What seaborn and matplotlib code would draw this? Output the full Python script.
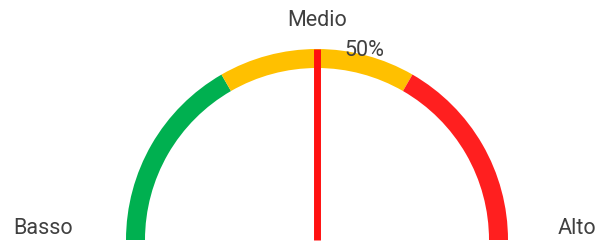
import numpy as np
import seaborn as sns
import matplotlib.pyplot as plt

# gauge bands (share of the half circle) and the needle value
bands = ['Basso', 'Medio', 'Alto']
band_values = [33.33, 33.33, 33.34]
band_colors = ['#00B050', '#FFC000', '#FF1F1F']
needle_value = 50
needle_label = '50%'

sns.set_theme(style='white')
plt.rcParams['font.family'] = ['Roboto', 'DejaVu Sans']

fig = plt.figure(figsize=(5.99, 2.41), dpi=100)
ax = fig.add_axes([0, 0, 1, 1])

# gauge layout in pixels
cx, cy = 317, 1
radius = 191
ring = 19

# half doughnut: the bottom half is a hidden slice
values = band_values + [sum(band_values)]
colors = band_colors + ['none']
ax.pie(values, colors=colors, center=(cx, cy), radius=radius,
       startangle=180, counterclock=False,
       wedgeprops=dict(width=ring, linewidth=0))

# needle
angle = np.deg2rad(180 - 180 * needle_value / sum(band_values))
nx = [cx, cx + radius * np.cos(angle)]
ny = [cy, cy + radius * np.sin(angle)]
sns.lineplot(x=nx, y=ny, color='#FF1010', linewidth=5.0, ax=ax,
             estimator=None, sort=False, solid_capstyle='butt', zorder=5)

txt = dict(color='#404040', fontsize=15.5, ha='center', va='center')
ax.text(cx, 241 - 21, bands[1], **txt)
ax.text(364, 241 - 50, needle_label, **txt)
ax.text(43, 241 - 228, bands[0], **txt)
ax.text(577, 241 - 229, bands[2], **txt)

ax.set_xlim(0, 599)
ax.set_ylim(0, 241)
ax.set_aspect('equal')
ax.axis('off')

fig.savefig('out.png', dpi=100, facecolor='white')
